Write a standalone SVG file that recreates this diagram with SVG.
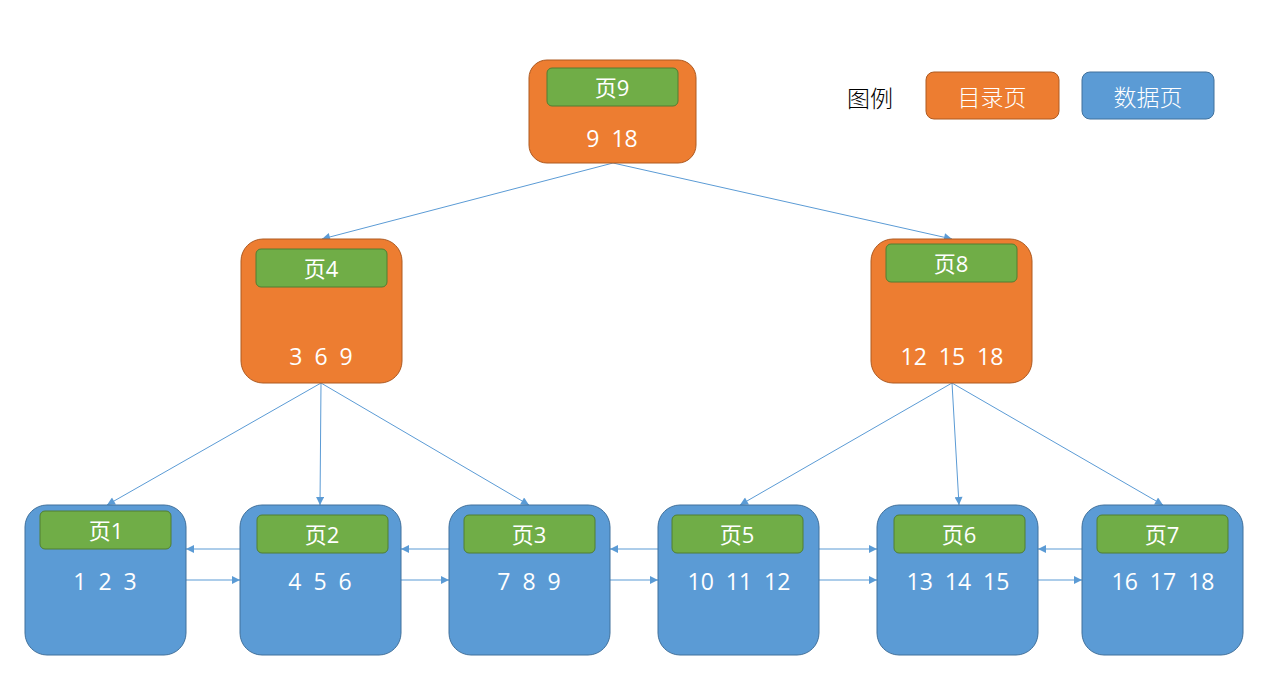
<svg xmlns="http://www.w3.org/2000/svg" width="1263" height="675" viewBox="0 0 1263 675">
<style>
.dir{fill:#ED7D31;stroke:#AE5A21;stroke-width:1}
.dat{fill:#5B9BD5;stroke:#41719C;stroke-width:1}
.hdr{fill:#70AD47;stroke:#507E32;stroke-width:1}
.t{font-family:"Open Sans","Noto Sans CJK SC",sans-serif;font-size:22px;fill:#fff;text-anchor:middle;dominant-baseline:central;white-space:pre}
.n{font-size:23px}
.lg{font-family:"Noto Sans CJK SC",sans-serif;font-size:23px;font-weight:300;text-anchor:middle;dominant-baseline:central}
.c line{stroke:#5B9BD5;stroke-width:1;marker-end:url(#ah)}
</style>
<defs>
<marker id="ah" viewBox="0 0 10 10" refX="10" refY="5" markerWidth="10" markerHeight="8" markerUnits="userSpaceOnUse" orient="auto"><path d="M0,0 L10,5 L0,10 z" fill="#5B9BD5"/></marker>
</defs>
<g id="legend">
<text class="lg" x="870" y="97" fill="#000">图例</text>
<rect class="dir" x="926" y="72" width="133" height="47" rx="8"/>
<text class="lg" x="992" y="96" fill="#fff">目录页</text>
<rect class="dat" x="1082" y="72" width="132" height="47" rx="8"/>
<text class="lg" x="1148" y="96" fill="#fff">数据页</text>
</g>
<g class="c" id="connectors">
<line x1="613" y1="163" x2="322" y2="239"/>
<line x1="613" y1="163" x2="952" y2="239"/>
<line x1="321" y1="383" x2="107" y2="505"/>
<line x1="321" y1="383" x2="320" y2="505"/>
<line x1="321" y1="383" x2="529" y2="505"/>
<line x1="952" y1="383" x2="740" y2="505"/>
<line x1="952" y1="383" x2="959" y2="505"/>
<line x1="952" y1="383" x2="1163" y2="505"/>
<line x1="240" y1="549" x2="186" y2="549"/>
<line x1="186" y1="580" x2="240" y2="580"/>
<line x1="449" y1="549" x2="401" y2="549"/>
<line x1="401" y1="580" x2="449" y2="580"/>
<line x1="658" y1="549" x2="610" y2="549"/>
<line x1="610" y1="580" x2="658" y2="580"/>
<line x1="819" y1="549" x2="877" y2="549"/>
<line x1="819" y1="580" x2="877" y2="580"/>
<line x1="1082" y1="549" x2="1038" y2="549"/>
<line x1="1038" y1="580" x2="1082" y2="580"/>
</g>
<g id="page9">
<rect class="dir" x="529" y="60" width="167" height="103" rx="18"/>
<rect class="hdr" x="547" y="68" width="131" height="38" rx="5"/>
<text class="t" x="612" y="87">页9</text>
<text class="t n" x="612" y="138">9  18</text>
</g>
<g id="page4">
<rect class="dir" x="241" y="239" width="161" height="144" rx="22"/>
<rect class="hdr" x="256" y="249" width="131" height="38" rx="5"/>
<text class="t" x="321" y="268">页4</text>
<text class="t n" x="321" y="356">3  6  9</text>
</g>
<g id="page8">
<rect class="dir" x="871" y="239" width="161" height="144" rx="22"/>
<rect class="hdr" x="886" y="244" width="131" height="38" rx="5"/>
<text class="t" x="951" y="263">页8</text>
<text class="t n" x="952" y="356">12  15  18</text>
</g>
<g id="page1">
<rect class="dat" x="25" y="505" width="161" height="150" rx="22"/>
<rect class="hdr" x="40" y="511" width="131" height="38" rx="5"/>
<text class="t" x="106" y="530">页1</text>
<text class="t n" x="105" y="581">1  2  3</text>
</g>
<g id="page2">
<rect class="dat" x="240" y="505" width="161" height="150" rx="22"/>
<rect class="hdr" x="257" y="515" width="131" height="38" rx="5"/>
<text class="t" x="322" y="534">页2</text>
<text class="t n" x="320" y="581">4  5  6</text>
</g>
<g id="page3">
<rect class="dat" x="449" y="505" width="161" height="150" rx="22"/>
<rect class="hdr" x="464" y="515" width="131" height="38" rx="5"/>
<text class="t" x="529" y="534">页3</text>
<text class="t n" x="529" y="581">7  8  9</text>
</g>
<g id="page5">
<rect class="dat" x="658" y="505" width="161" height="150" rx="22"/>
<rect class="hdr" x="672" y="515" width="131" height="38" rx="5"/>
<text class="t" x="737" y="534">页5</text>
<text class="t n" x="739" y="581">10  11  12</text>
</g>
<g id="page6">
<rect class="dat" x="877" y="505" width="161" height="150" rx="22"/>
<rect class="hdr" x="894" y="515" width="131" height="38" rx="5"/>
<text class="t" x="959" y="534">页6</text>
<text class="t n" x="958" y="581">13  14  15</text>
</g>
<g id="page7">
<rect class="dat" x="1082" y="505" width="161" height="150" rx="22"/>
<rect class="hdr" x="1097" y="515" width="131" height="38" rx="5"/>
<text class="t" x="1162" y="534">页7</text>
<text class="t n" x="1163" y="581">16  17  18</text>
</g>
</svg>
